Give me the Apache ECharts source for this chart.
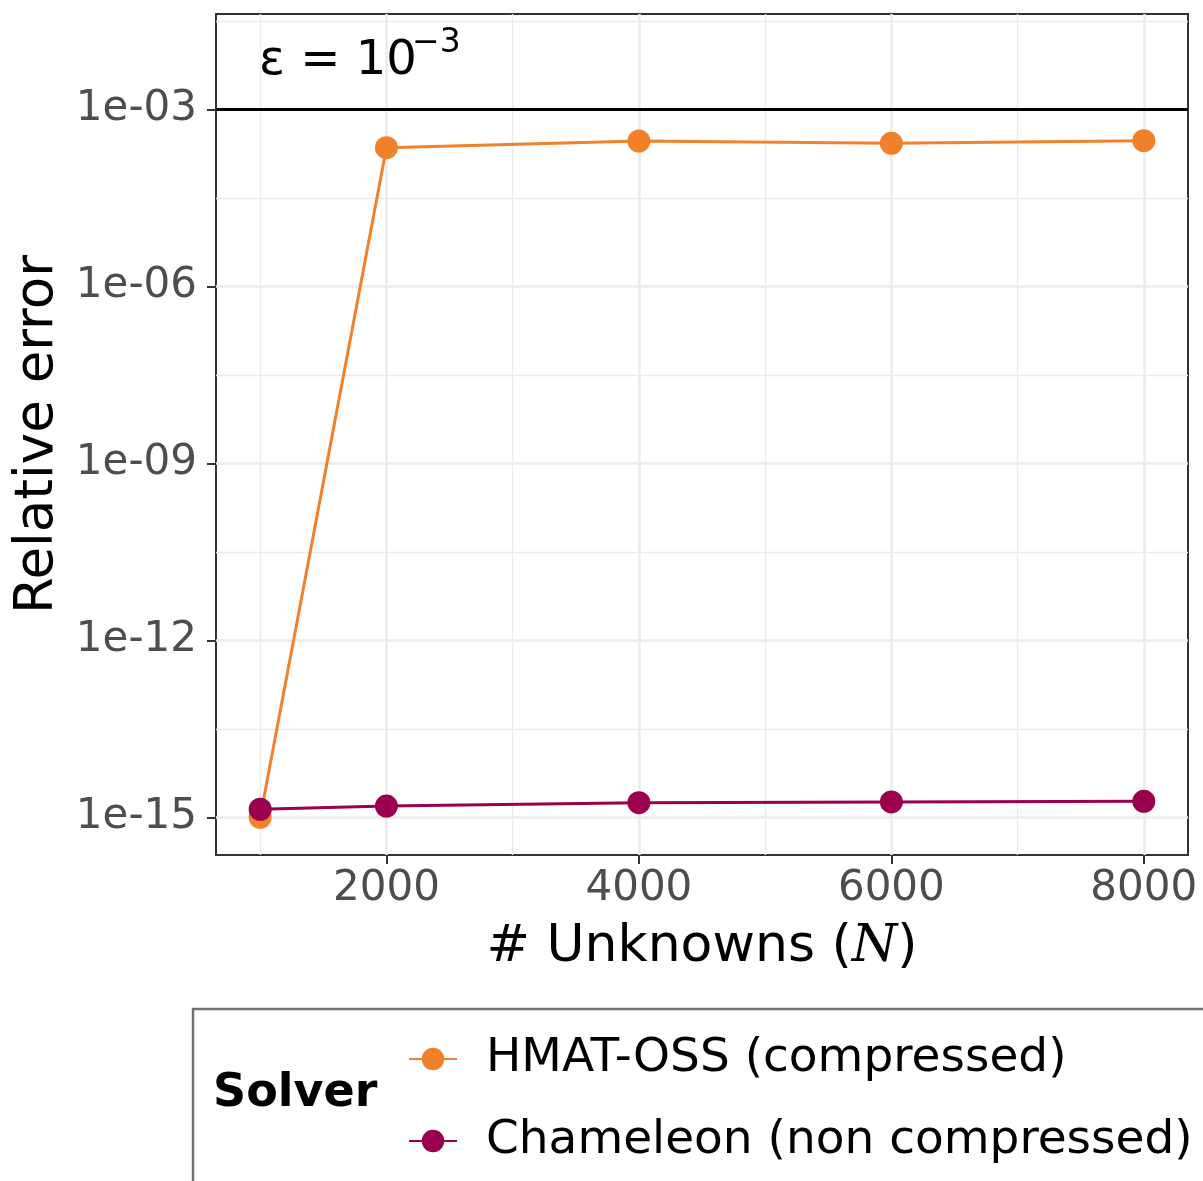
<!DOCTYPE html>
<html>
<head>
<meta charset="utf-8">
<script src="https://cdn.jsdelivr.net/npm/echarts@6/dist/echarts.min.js"></script>
<style>
  html, body { margin: 0; padding: 0; background: #ffffff; overflow: hidden; }
  #chart { width: 1203px; height: 1181px; }
</style>
</head>
<body>
<div id="chart"></div>
<script>
// ---- data ----
const unknowns = [1000, 2000, 4000, 6000, 8000];
const hmatError = [1.0e-15, 2.25e-4, 2.92e-4, 2.67e-4, 2.96e-4];
const chameleonError = [1.37e-15, 1.55e-15, 1.77e-15, 1.82e-15, 1.87e-15];
const seriesNames = ['HMAT-OSS (compressed)', 'Chameleon (non compressed)'];
const xTickValues = [2000, 4000, 6000, 8000];
const xMinorValues = [1000, 3000, 5000, 7000];
const yTickExponents = [-15, -12, -9, -6, -3];
const yMinorExponents = [-13.5, -10.5, -7.5, -4.5, -1.5];
const epsilonValue = 1e-3;

const FONT = 'DejaVu Sans';
const toLog = v => Math.log10(v);
const pairs = ys => unknowns.map((x, i) => [x, toLog(ys[i])]);

const chart = echarts.init(document.getElementById('chart'), null, { renderer: 'canvas' });

const majorStyle = { color: '#ebebeb', width: 2.5, type: 'solid' };
const minorStyle = { color: '#ebebeb', width: 1.4, type: 'solid' };

const gridLines = []
  .concat(xMinorValues.map(v => ({ xAxis: v, lineStyle: minorStyle })))
  .concat(yMinorExponents.map(v => ({ yAxis: v, lineStyle: minorStyle })))
  .concat(xTickValues.map(v => ({ xAxis: v, lineStyle: majorStyle })))
  .concat(yTickExponents.map(v => ({ yAxis: v, lineStyle: majorStyle })));

const option = {
  backgroundColor: '#ffffff',
  animation: false,
  textStyle: { fontFamily: FONT },
  grid: {
    left: 216, top: 14, width: 972, height: 841,
    show: true, borderColor: '#333333', borderWidth: 2, backgroundColor: '#ffffff',
    containLabel: false
  },
  xAxis: {
    type: 'value', min: 650, max: 8350,
    name: '# Unknowns ({i|N})',
    nameLocation: 'middle', nameGap: 66,
    nameTextStyle: {
      fontSize: 52, color: '#000000', fontFamily: FONT,
      rich: { i: { fontSize: 52, fontFamily: 'DejaVu Serif', fontStyle: 'italic', color: '#000000' } }
    },
    axisLine: { show: false },
    splitLine: { show: false },
    axisTick: { show: true, length: 9, lineStyle: { color: '#333333', width: 2 }, customValues: xTickValues },
    axisLabel: {
      customValues: xTickValues, fontSize: 42, color: '#4d4d4d', fontFamily: FONT, margin: 13,
      formatter: v => String(Math.round(v))
    }
  },
  yAxis: {
    type: 'value', min: -15.639, max: -1.381,
    name: 'Relative error',
    nameLocation: 'middle', nameGap: 151, nameRotate: 90,
    nameTextStyle: { fontSize: 53, color: '#000000', fontFamily: FONT },
    axisLine: { show: false },
    splitLine: { show: false },
    axisTick: { show: true, length: 9, lineStyle: { color: '#333333', width: 2 }, customValues: yTickExponents },
    axisLabel: {
      customValues: yTickExponents, fontSize: 42, color: '#4d4d4d', fontFamily: FONT, margin: 19,
      formatter: v => { const e = Math.round(v); return '1e' + (e < 0 ? '-' : '+') + String(Math.abs(e)).padStart(2, '0'); }
    }
  },
  legend: {
    data: seriesNames,
    orient: 'vertical', left: 408, top: 1034, padding: 0,
    itemWidth: 48, itemHeight: 28, itemGap: 32,
    textStyle: { fontSize: 47, color: '#000000', fontFamily: FONT, lineHeight: 50, padding: [0, 0, 0, 24] }
  },
  graphic: [
    { type: 'rect', silent: true, z: 0,
      shape: { x: 193, y: 1009, width: 1100, height: 300 },
      style: { fill: 'none', stroke: '#707070', lineWidth: 2.5 } },
    { type: 'text', silent: true, left: 213, top: 1098 - 27,
      style: { text: 'Solver', fontSize: 46, fontWeight: 'bold', fill: '#000000', fontFamily: FONT } },
    { type: 'text', silent: true, z: 10, x: 259, y: 62,
      style: { text: 'ε = 10', fontSize: 48, fill: '#000000', fontFamily: FONT, verticalAlign: 'middle', align: 'left' } },
    { type: 'text', silent: true, z: 10, x: 412, y: 43,
      style: { text: '−3', fontSize: 33, fill: '#000000', fontFamily: FONT, verticalAlign: 'middle', align: 'left' } }
  ],
  series: [
    {
      name: 'grid-lines', type: 'line', data: [], z: 1, silent: true,
      markLine: {
        z: 1, silent: true, symbol: ['none', 'none'], label: { show: false }, animation: false,
        data: gridLines
      }
    },
    {
      name: 'epsilon', type: 'line', data: [], z: 2, silent: true,
      markLine: {
        z: 2, silent: true, symbol: ['none', 'none'], label: { show: false }, animation: false,
        lineStyle: { color: '#000000', width: 3, type: 'solid' },
        data: [{ yAxis: toLog(epsilonValue) }]
      }
    },
    {
      name: seriesNames[0], type: 'line', data: pairs(hmatError), z: 3,
      symbol: 'circle', symbolSize: 23, showSymbol: true,
      lineStyle: { color: '#F0812A', width: 3 },
      itemStyle: { color: '#F0812A' }
    },
    {
      name: seriesNames[1], type: 'line', data: pairs(chameleonError), z: 4,
      symbol: 'circle', symbolSize: 23, showSymbol: true,
      lineStyle: { color: '#9B004F', width: 3 },
      itemStyle: { color: '#9B004F' }
    }
  ]
};

chart.setOption(option);
</script>
</body>
</html>
